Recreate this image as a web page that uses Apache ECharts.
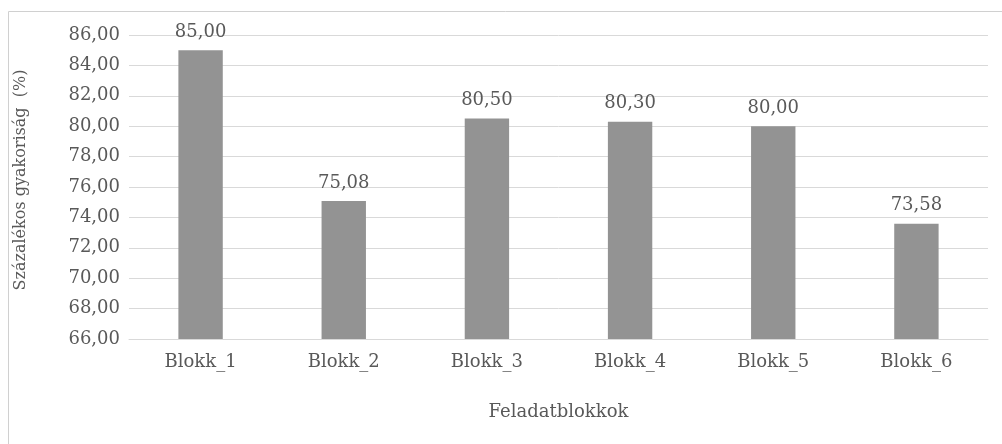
<!DOCTYPE html>
<html>
<head>
<meta charset="utf-8">
<script src="https://cdn.jsdelivr.net/npm/echarts@6/dist/echarts.min.js"></script>
<style>
  html, body { margin: 0; padding: 0; background: #fff; }
  #chart { width: 1002px; height: 444px; }
</style>
</head>
<body>
<div id="chart"></div>
<script>
// adatok
const categories = ['Blokk_1', 'Blokk_2', 'Blokk_3', 'Blokk_4', 'Blokk_5', 'Blokk_6']
const values = [85.00, 75.08, 80.50, 80.30, 80.00, 73.58]
const yMin = 66
const yMax = 86
const yStep = 2

const fontFamily = '"DejaVu Serif", "Liberation Serif", serif'
const textColor = '#595959'

// vesszős tizedes formátum
const fmt = v => Number(v).toFixed(2).replace('.', ',')

const chart = echarts.init(document.getElementById('chart'))
chart.setOption({
  animation: false,
  textStyle: { fontFamily: fontFamily },
  graphic: [
    {
      type: 'rect',
      shape: { x: 8.5, y: 11.5, width: 1010, height: 450 },
      style: { fill: 'none', stroke: '#d0d0d0', lineWidth: 1 },
      silent: true
    }
  ],
  grid: {
    left: 129,
    right: 14,
    top: 35,
    bottom: 105
  },
  xAxis: {
    type: 'category',
    data: categories,
    name: 'Feladatblokkok',
    nameLocation: 'middle',
    nameGap: 64,
    nameTextStyle: { color: textColor, fontSize: 18, fontFamily: fontFamily },
    axisLine: { lineStyle: { color: '#d9d9d9', width: 1 } },
    axisTick: { show: false },
    axisLabel: { color: textColor, fontSize: 18, margin: 14, fontFamily: fontFamily }
  },
  yAxis: {
    type: 'value',
    min: yMin,
    max: yMax,
    interval: yStep,
    name: 'Százalékos gyakoriság  (%)',
    nameLocation: 'middle',
    nameGap: 100,
    nameTextStyle: {
      color: textColor,
      fontSize: 16,
      fontFamily: fontFamily,
      padding: [0, 0, 0, 14]
    },
    axisLine: { show: false },
    axisTick: { show: false },
    splitLine: { lineStyle: { color: '#d9d9d9', width: 1 } },
    axisLabel: {
      color: textColor,
      fontSize: 18,
      margin: 9,
      fontFamily: fontFamily,
      formatter: v => fmt(v)
    }
  },
  series: [
    {
      type: 'bar',
      data: values,
      barWidth: '31%',
      itemStyle: { color: '#939393' },
      label: {
        show: true,
        position: 'top',
        distance: 9,
        color: textColor,
        fontSize: 18,
        fontFamily: fontFamily,
        formatter: p => fmt(p.value)
      }
    }
  ]
})
</script>
</body>
</html>
